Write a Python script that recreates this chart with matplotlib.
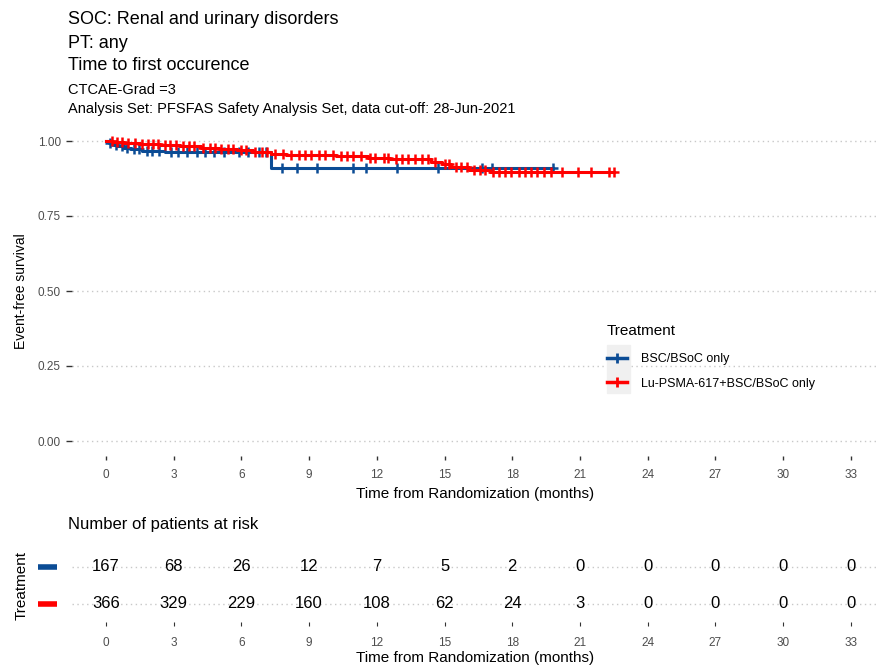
import matplotlib
matplotlib.use("Agg")
import matplotlib.pyplot as plt
from matplotlib.lines import Line2D
from matplotlib.patches import Rectangle
import numpy as np

plt.rcParams['font.family'] = ['Liberation Sans', 'DejaVu Sans']

# Kaplan-Meier step data
bsc_times = [0, 0.15, 0.35, 0.55, 0.8, 1.1, 1.6, 2.6, 7.3, 19.8]
bsc_surv = [1.0, 0.994, 0.988, 0.982, 0.977, 0.972, 0.968, 0.965, 0.910, 0.910]
bsc_censor = [0.2, 0.45, 0.7, 0.95, 1.25, 1.45, 1.8, 2.05, 2.35, 2.9, 3.2, 3.6, 4.05, 4.4,
              4.8, 5.25, 5.9, 6.3, 6.8, 7.1, 7.8, 8.45, 9.35, 10.95, 11.5, 12.9, 14.7,
              16.65, 17.1, 19.8]

lu_times = [0, 0.3, 0.8, 1.5, 2.4, 3.3, 4.2, 5.0, 5.8, 6.5, 7.3, 8.0, 10.2, 11.6, 12.6,
            14.4, 14.9, 15.3, 16.1, 17.0, 22.5]
lu_surv = [1.0, 0.997, 0.994, 0.99, 0.986, 0.982, 0.978, 0.974, 0.969, 0.964, 0.958,
           0.953, 0.949, 0.944, 0.94, 0.93, 0.922, 0.914, 0.904, 0.897, 0.897]
lu_censor = [0.25, 0.5, 0.7, 1.0, 1.3, 1.6, 1.85, 2.1, 2.3, 2.6, 2.85, 3.1, 3.4, 3.7,
             3.9, 4.3, 4.6, 4.85, 5.1, 5.4, 5.65, 6.0, 6.2, 6.6, 6.9, 7.15, 7.5, 7.85,
             8.2, 8.55, 8.8, 9.1, 9.45, 9.7, 10.05, 10.4, 10.7, 10.95, 11.3, 11.7, 11.9,
             12.3, 12.5, 12.85, 13.1, 13.4, 13.7, 14.0, 14.25, 14.6, 15.0, 15.2, 15.5,
             15.75, 16.0, 16.3, 16.55, 16.8, 17.15, 17.4, 17.7, 17.95, 18.3, 18.55,
             18.85, 19.1, 19.4, 19.7, 20.2, 20.9, 21.5, 22.3, 22.5]

# number at risk
risk_times = [0, 3, 6, 9, 12, 15, 18, 21, 24, 27, 30, 33]
bsc_risk = [167, 68, 26, 12, 7, 5, 2, 0, 0, 0, 0, 0]
lu_risk = [366, 329, 229, 160, 108, 62, 24, 3, 0, 0, 0, 0]

labels = ['BSC/BSoC only', 'Lu-PSMA-617+BSC/BSoC only']
blue = '#0B4C95'
red = '#FF0000'
grid_col = '#C8C8C8'
tick_col = '#4D4D4D'


def step_value(times, surv, t):
    idx = np.searchsorted(times, t, side='right') - 1
    return np.asarray(surv)[idx]


fig = plt.figure(figsize=(8.78, 6.69), dpi=100)
W, H = 878, 669


def px_axes(left, top, right, bottom):
    return fig.add_axes([left / W, 1 - bottom / H, (right - left) / W, (bottom - top) / H])


xlim = (-1.5, 34.2)

# --- survival panel ---
ax = px_axes(72, 126, 878, 456)
for y in [0, 0.25, 0.5, 0.75, 1.0]:
    ax.axhline(y, color=grid_col, lw=1, ls=(0, (1, 2.5)), zorder=0)

for times, surv, cens, col in [(bsc_times, bsc_surv, bsc_censor, blue),
                               (lu_times, lu_surv, lu_censor, red)]:
    ax.step(times, surv, where='post', color=col, lw=2.2, zorder=3)
    ax.plot(cens, step_value(times, surv, cens), '+', color=col, ms=7, mew=1.8, zorder=3)

ax.set_xlim(*xlim)
ax.set_ylim(-0.05, 1.05)
ax.set_xticks(risk_times)
ax.set_yticks([0, 0.25, 0.5, 0.75, 1.0])
ax.set_yticklabels(['0.00', '0.25', '0.50', '0.75', '1.00'])
ax.tick_params(axis='both', length=3, color='#333333', labelcolor=tick_col, labelsize=8.5,
               width=1)
ax.tick_params(axis='x', pad=6)
ax.tick_params(axis='y', pad=4, length=4)
for s in ax.spines.values():
    s.set_visible(False)
ax.set_xlabel('Time from Randomization (months)', fontsize=11, labelpad=5)
ax.set_ylabel('Event-free survival', fontsize=10, labelpad=7)

# legend
fig.add_artist(Rectangle((607 / W, 1 - 393 / H), 23 / W, 48 / H,
                         transform=fig.transFigure, color='#F0F0F0', zorder=1))
handles = [Line2D([], [], color=blue, lw=2.5, marker='+', ms=7, mew=2),
           Line2D([], [], color=red, lw=2.5, marker='+', ms=7, mew=2)]
leg = fig.legend(handles, labels, title='Treatment', loc='upper left',
                 bbox_to_anchor=(607 / W, 1 - 324 / H), frameon=False, fontsize=9,
                 title_fontsize=11, alignment='left', handlelength=1.6,
                 handletextpad=1.1, labelspacing=1.0, borderpad=0, borderaxespad=0)
leg.set_zorder(5)
leg._legend_box.sep = 11

# --- risk table ---
rax = px_axes(72, 548, 878, 622)
for y in [1, 2]:
    rax.axhline(y, color=grid_col, lw=1, ls=(0, (1, 2.5)), zorder=0)
for t, n in zip(risk_times, bsc_risk):
    rax.text(t, 2, str(n), ha='center', va='center', fontsize=12)
for t, n in zip(risk_times, lu_risk):
    rax.text(t, 1, str(n), ha='center', va='center', fontsize=12)
rax.set_xlim(*xlim)
rax.set_ylim(0.5, 2.5)
rax.set_xticks(risk_times)
rax.set_yticks([])
rax.tick_params(axis='x', length=3, color='#333333', labelcolor=tick_col, labelsize=8.5,
                pad=8)
for s in rax.spines.values():
    s.set_visible(False)
rax.set_xlabel('Time from Randomization (months)', fontsize=11, labelpad=1)
rax.set_ylabel('Treatment', fontsize=11, labelpad=31)
trans = rax.get_yaxis_transform()
rax.plot([-0.042, -0.018], [2, 2], color=blue, lw=4, transform=trans, clip_on=False,
         solid_capstyle='butt')
rax.plot([-0.042, -0.018], [1, 1], color=red, lw=4, transform=trans, clip_on=False,
         solid_capstyle='butt')
fig.text(68 / W, 1 - 524 / H, 'Number of patients at risk', fontsize=12, va='center')

# titles
for y, txt, fs in [(20, 'SOC: Renal and urinary disorders', 13),
                   (43, 'PT: any', 13),
                   (66, 'Time to first occurence', 13),
                   (90, 'CTCAE-Grad =3', 10.5),
                   (109, 'Analysis Set: PFSFAS Safety Analysis Set, data cut-off: 28-Jun-2021', 10.5)]:
    fig.text(68 / W, 1 - y / H, txt, fontsize=fs, va='center')

fig.savefig('out.png', dpi=100)
